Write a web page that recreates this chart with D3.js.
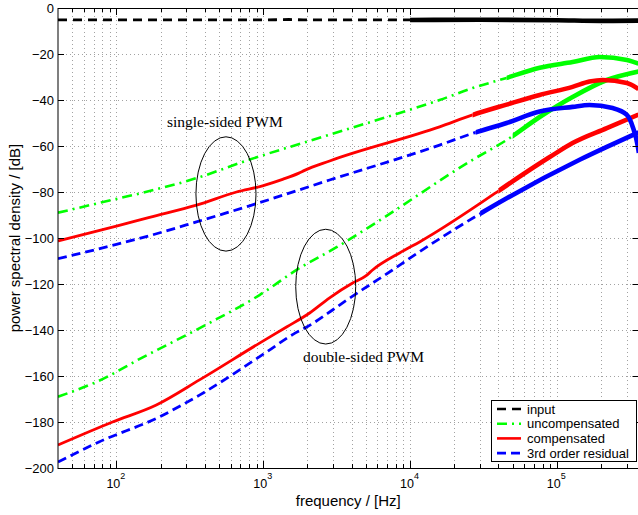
<!DOCTYPE html>
<html><head><meta charset="utf-8">
<script src="https://cdn.jsdelivr.net/npm/d3@7"></script>
<style>body{margin:0;background:#fff}svg{display:block}</style>
</head><body>
<svg id="chart" width="638" height="515"></svg>
<script>
// ---------- data ----------
const yTickValues = [0,-20,-40,-60,-80,-100,-120,-140,-160,-180,-200];
const xMajorTicks = [100, 1000, 10000, 100000];
const xTickExponents = ["2","3","4","5"];
const seriesNames = ["input","uncompensated","compensated","3rd order residual"];

// [frequency Hz, dB]
const inputData = [[40,-5.2],[100,-5.2],[300,-5.2],[1000,-5.2],[1500,-5.0],[2000,-5.2],[5000,-5.2],[10000,-5.2],[30000,-5.1],[100000,-5.3],[200000,-5.6],[360000,-5.5]];

const uncompSingle = [[40,-89],[100,-83],[168,-79.6],[350,-74],[800,-66],[2800,-55.2],[9900,-44.3],[15900,-40],[26700,-34.8],[45500,-30.4],[76400,-26],[128000,-23.5],[196000,-21.3],[300000,-22.6],[360000,-24.2]];
const compSingle = [[40,-101.3],[100,-94.8],[168,-91],[351,-85.7],[658,-80],[989,-77.3],[1354,-74.5],[1750,-71.8],[1914,-70.6],[2833,-66.5],[15900,-51.7],[26700,-46.5],[45500,-42],[76400,-37.8],[128000,-34.3],[167000,-32],[205000,-31.3],[300000,-32.6],[360000,-35.2]];
const residSingle = [[40,-109],[100,-102.8],[168,-99],[351,-93],[807,-86],[2833,-74.8],[15900,-59.6],[26700,-54.5],[45500,-50],[76400,-45],[128000,-43],[167000,-42.2],[240000,-43.5],[300000,-46.5],[329000,-51.7],[356000,-60],[362000,-63]];

const uncompDouble = [[40,-169],[49,-167],[73,-162.6],[150,-152],[400,-138],[944,-124.8],[1687,-113.9],[3160,-104],[5560,-94.3],[26700,-66],[45500,-57.4],[76400,-47.4],[128000,-38.7],[219000,-31.3],[360000,-27.6]];
const compDouble = [[40,-190],[94,-180],[187,-172.6],[368,-161.7],[944,-145.7],[1442,-138.7],[2070,-132.6],[2833,-126],[4065,-119.6],[5000,-116.5],[5560,-113.9],[8490,-106.5],[11620,-101.7],[89500,-64.8],[128000,-58.7],[219000,-52.2],[360000,-46.3]];
const residDouble = [[40,-197.4],[76,-188.7],[196,-177.8],[368,-168.3],[1052,-149.6],[1585,-142],[2070,-138],[2967,-131.3],[3700,-127],[5310,-120.4],[7600,-113.9],[10400,-108],[143000,-66],[219000,-60.4],[360000,-54.1]];

// ---------- layout ----------
const W = 638, H = 515;
const L = 58, R = 638.5, T = 8, B = 468;
const svg = d3.select("#chart");
const x = d3.scaleLog().domain([40, 360000]).range([L, R]);
const y = d3.scaleLinear().domain([-200, 0]).range([B, T]);

svg.append("rect").attr("width",W).attr("height",H).attr("fill","#fff");
const defs = svg.append("defs");
defs.append("clipPath").attr("id","clip")
  .append("rect").attr("x",L).attr("y",T).attr("width",R-L).attr("height",B-T);

// minor tick values
const minorTicks = [];
for (let e = 1; e <= 5; e++) for (let m = 1; m <= 9; m++) {
  const v = m * Math.pow(10, e);
  if (v > 40 && v < 360000) minorTicks.push(v);
}

// grid
const grid = svg.append("g").attr("stroke","#666").attr("stroke-width",1).attr("stroke-dasharray","1,3").attr("opacity",0.6);
grid.selectAll("line.v").data(minorTicks).join("line")
  .attr("x1", d => Math.round(x(d))+0.5).attr("x2", d => Math.round(x(d))+0.5)
  .attr("y1", T).attr("y2", B);
grid.selectAll("line.h").data(yTickValues.filter(v => v > -200 && v < 0)).join("line")
  .attr("x1", L).attr("x2", R)
  .attr("y1", d => Math.round(y(d))+0.5).attr("y2", d => Math.round(y(d))+0.5);

// series
const line = d3.line().x(d => x(d[0])).y(d => y(d[1])).curve(d3.curveMonotoneX);
const plot = svg.append("g").attr("clip-path","url(#clip)");
const series = [
  {data: uncompSingle, color:"#00ff00", dash:"10,5,2,5", width:2.6, dense:45500},
  {data: uncompDouble, color:"#00ff00", dash:"10,5,2,5", width:2.6, dense:50000},
  {data: compSingle, color:"#ff0000", dash:null, width:2.8, dense:26700},
  {data: compDouble, color:"#ff0000", dash:null, width:2.8, dense:40000},
  {data: residSingle, color:"#0000ff", dash:"9,5", width:2.8, dense:28000},
  {data: residDouble, color:"#0000ff", dash:"9,5", width:2.8, dense:30000},
  {data: inputData, color:"#000000", dash:"9,6", width:2.8, dense:10000}
];
series.forEach((s, i) => {
  const xs = x(s.dense);
  defs.append("clipPath").attr("id","lo"+i).append("rect")
    .attr("x",L).attr("y",T).attr("width",xs-L).attr("height",B-T);
  defs.append("clipPath").attr("id","hi"+i).append("rect")
    .attr("x",xs).attr("y",T).attr("width",R-xs).attr("height",B-T);
  const g = plot.append("g");
  g.append("path").datum(s.data).attr("d", line).attr("clip-path",`url(#lo${i})`)
    .attr("fill","none").attr("stroke", s.color).attr("stroke-width", s.width)
    .attr("stroke-dasharray", s.dash);
  g.append("path").datum(s.data).attr("d", line).attr("clip-path",`url(#hi${i})`)
    .attr("fill","none").attr("stroke", s.color).attr("stroke-width", 4.6)
    .attr("stroke-linejoin","round");
});

// annotations (data coordinates)
const ann = svg.append("g");
function ellipse(fLo, fHi, dTop, dBot) {
  const cx = (x(fLo)+x(fHi))/2, cy = (y(dTop)+y(dBot))/2;
  ann.append("ellipse").attr("cx",cx).attr("cy",cy)
    .attr("rx",(x(fHi)-x(fLo))/2).attr("ry",(y(dBot)-y(dTop))/2)
    .attr("fill","none").attr("stroke","#000").attr("stroke-width",1);
}
ellipse(348, 893, -56, -105.7);
ellipse(1665, 4266, -96.2, -146.1);
ann.append("text").attr("x", x(221)).attr("y", y(-51.7)).text("single-sided PWM")
  .attr("font-family","Liberation Serif, Times New Roman, serif").attr("font-size",15.5);
ann.append("text").attr("x", x(1866)).attr("y", y(-153.8)).text("double-sided PWM")
  .attr("font-family","Liberation Serif, Times New Roman, serif").attr("font-size",15.5);

// axes box and ticks
const ax = svg.append("g").attr("stroke","#000").attr("stroke-width",1);
ax.append("rect").attr("x",L).attr("y",T+0.5).attr("width",R-L).attr("height",B-T)
  .attr("fill","none");
yTickValues.forEach(v => {
  const yy = Math.round(y(v))+0.5;
  ax.append("line").attr("x1",L).attr("x2",L+6).attr("y1",yy).attr("y2",yy);
  ax.append("line").attr("x1",R-6).attr("x2",R).attr("y1",yy).attr("y2",yy);
});
minorTicks.forEach(v => {
  const xx = Math.round(x(v))+0.5;
  const major = xMajorTicks.includes(v);
  const len = major ? 7 : 4;
  ax.append("line").attr("x1",xx).attr("x2",xx).attr("y1",B).attr("y2",B-len);
  ax.append("line").attr("x1",xx).attr("x2",xx).attr("y1",T).attr("y2",T+len);
});

// tick labels
const font = "Liberation Sans, Arial, Helvetica, sans-serif";
svg.append("g").selectAll("text").data(yTickValues).join("text")
  .attr("x", L-4).attr("y", d => y(d)).attr("dy","0.36em")
  .attr("text-anchor","end").attr("font-family",font).attr("font-size",13)
  .text(d => d === 0 ? "0" : "\u2212" + Math.abs(d));
const xl = svg.append("g").selectAll("text").data(xMajorTicks).join("text")
  .attr("x", d => x(d) - 10).attr("y", 488)
  .attr("font-family",font).attr("font-size",12.5);
xl.append("tspan").text("10");
xl.append("tspan").attr("dy",-9).attr("font-size",9).text((d,i) => xTickExponents[i]);

// axis labels
svg.append("text").attr("x", (L+R)/2).attr("y", 506).attr("text-anchor","middle")
  .attr("font-family",font).attr("font-size",15).text("frequency / [Hz]");
svg.append("text").attr("transform", `translate(20,${(T+B)/2}) rotate(-90)`)
  .attr("text-anchor","middle").attr("font-family",font).attr("font-size",15)
  .text("power spectral density / [dB]");

// legend
const lg = svg.append("g");
lg.append("rect").attr("x",491.5).attr("y",400.5).attr("width",145).attr("height",61)
  .attr("fill","#fff").attr("stroke","#000").attr("stroke-width",1);
const legendStyles = [
  {color:"#000000", dash:"9,6"},
  {color:"#00ff00", dash:"10,5,2,5"},
  {color:"#ff0000", dash:null},
  {color:"#0000ff", dash:"9,5"}
];
seriesNames.forEach((name, i) => {
  const yy = 409 + i * 14.7;
  lg.append("line").attr("x1",497).attr("x2",521).attr("y1",yy).attr("y2",yy)
    .attr("stroke",legendStyles[i].color).attr("stroke-width",2.6)
    .attr("stroke-dasharray",legendStyles[i].dash);
  lg.append("text").attr("x",527).attr("y",yy).attr("dy","0.35em")
    .attr("font-family",font).attr("font-size",13).text(name);
});
</script>
</body></html>
